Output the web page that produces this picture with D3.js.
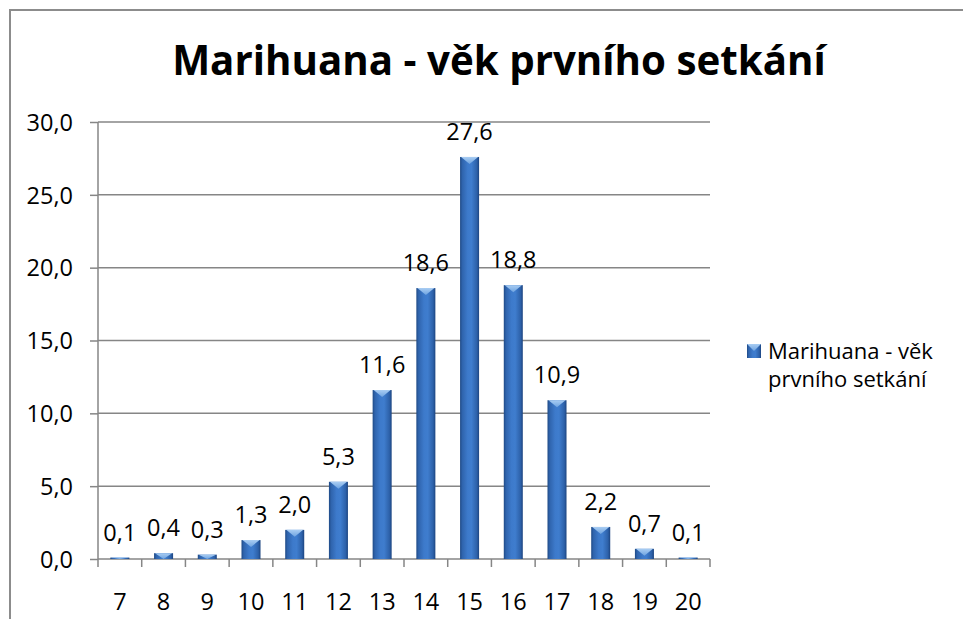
<!DOCTYPE html>
<html>
<head>
<meta charset="utf-8">
<script src="https://cdn.jsdelivr.net/npm/d3@7"></script>
<style>
  html, body { margin: 0; padding: 0; background: #fff; }
  svg { display: block; }
  text { font-family: "Open Sans", "Noto Sans", sans-serif; fill: #000; }
</style>
</head>
<body>
<script>
const titleText = "Marihuana - věk prvního setkání";
const seriesName = ["Marihuana - věk", "prvního setkání"];
const categories = ["7","8","9","10","11","12","13","14","15","16","17","18","19","20"];
const values = [0.1, 0.4, 0.3, 1.3, 2.0, 5.3, 11.6, 18.6, 27.6, 18.8, 10.9, 2.2, 0.7, 0.1];
const yTicks = [0, 5, 10, 15, 20, 25, 30];

const W = 963, H = 619;
const svg = d3.select("body").append("svg").attr("width", W).attr("height", H);

const defs = svg.append("defs");
const g1 = defs.append("linearGradient").attr("id", "barGrad").attr("x1", "0").attr("x2", "1").attr("y1", "0").attr("y2", "0");
[["0%", "#1f4a86"], ["12%", "#2f64ad"], ["40%", "#3d7acb"], ["60%", "#3f7dce"], ["88%", "#2d61a9"], ["100%", "#1c4480"]]
  .forEach(([o, c]) => g1.append("stop").attr("offset", o).attr("stop-color", c));
const g2 = defs.append("linearGradient").attr("id", "capGrad").attr("x1", "0").attr("x2", "0").attr("y1", "0").attr("y2", "1");
[["0%", "#a9cdf3"], ["100%", "#6ea3e0"]]
  .forEach(([o, c]) => g2.append("stop").attr("offset", o).attr("stop-color", c));

// outer chart border (top + left visible)
svg.append("path").attr("d", `M10,${H} L10,10 L${W},10`)
  .attr("fill", "none").attr("stroke", "#8c8c8c").attr("stroke-width", 2);

// title
const title = svg.append("text").attr("x", 499).attr("y", 75)
  .attr("text-anchor", "middle").attr("font-weight", "bold").attr("font-size", 40)
  .text(titleText);
const tl = title.node().getComputedTextLength();
title.attr("font-size", 40 * 654 / tl);

const plot = { left: 98, right: 710, top: 122, bottom: 559 };
const x = d3.scaleBand().domain(categories).range([plot.left, plot.right]).paddingInner(0.565).paddingOuter(0.2825);
const xb = d3.scaleBand().domain(categories).range([plot.left, plot.right]);
const y = d3.scaleLinear().domain([0, 30]).range([plot.bottom, plot.top]);

// gridlines
svg.append("g").selectAll("line").data(yTicks.filter(d => d > 0)).join("line")
  .attr("x1", plot.left).attr("x2", plot.right)
  .attr("y1", d => y(d)).attr("y2", d => y(d))
  .attr("stroke", "#868686").attr("stroke-width", 1.5);

// y axis
const yAxis = svg.append("g").attr("transform", `translate(${plot.left},0)`)
  .call(d3.axisLeft(y).tickValues(yTicks).tickSize(8).tickPadding(17)
    .tickFormat(d => d3.format(".1f")(d).replace(".", ",")));
yAxis.select(".domain").attr("stroke", "#868686").attr("stroke-width", 1.5).attr("d", `M0,${plot.top}V${plot.bottom}`);
yAxis.selectAll(".tick line").attr("stroke", "#868686").attr("stroke-width", 1.5);
yAxis.selectAll(".tick text").attr("font-size", 23.5).attr("fill", "#000").attr("dy", "0.35em")
  .style("font-family", '"Open Sans", sans-serif');

// x axis: category boundary ticks
const xAxisG = svg.append("g");
xAxisG.append("line").attr("x1", plot.left).attr("x2", plot.right)
  .attr("y1", plot.bottom).attr("y2", plot.bottom)
  .attr("stroke", "#868686").attr("stroke-width", 1.5);
const bounds = categories.map(c => xb(c)).concat([plot.right]);
xAxisG.selectAll("line.tk").data(bounds).join("line").attr("class", "tk")
  .attr("x1", d => d).attr("x2", d => d).attr("y1", plot.bottom).attr("y2", plot.bottom + 8)
  .attr("stroke", "#868686").attr("stroke-width", 1.5);
xAxisG.selectAll("text").data(categories).join("text")
  .attr("x", d => xb(d) + xb.bandwidth() / 2).attr("y", 610)
  .attr("text-anchor", "middle").attr("font-size", 23.5).text(d => d);

// bars
const bars = svg.append("g");
const data = categories.map((c, i) => ({ c, v: values[i] }));
bars.selectAll("rect").data(data).join("rect")
  .attr("x", d => x(d.c)).attr("width", x.bandwidth())
  .attr("y", d => y(d.v)).attr("height", d => y(0) - y(d.v))
  .attr("fill", "url(#barGrad)");
bars.selectAll("path.cap").data(data).join("path").attr("class", "cap")
  .attr("d", d => {
    const x0 = x(d.c), x1 = x0 + x.bandwidth(), top = y(d.v);
    const h = Math.min(7, y(0) - top);
    return `M${x0 + 1},${top} L${x1 - 1},${top} L${(x0 + x1) / 2},${top + h} Z`;
  })
  .attr("fill", "url(#capGrad)");

// data labels
svg.append("g").selectAll("text").data(data).join("text")
  .attr("x", d => x(d.c) + x.bandwidth() / 2).attr("y", d => y(d.v) - 17)
  .attr("text-anchor", "middle").attr("font-size", 23.5)
  .text(d => d3.format(".1f")(d.v).replace(".", ","));

// legend
const leg = svg.append("g");
leg.append("rect").attr("x", 747).attr("y", 344).attr("width", 14).attr("height", 14).attr("fill", "url(#barGrad)");
leg.append("path").attr("d", "M747,344 L761,344 L754,351 Z").attr("fill", "url(#capGrad)");
leg.selectAll("text").data(seriesName).join("text")
  .attr("x", 768).attr("y", (d, i) => 359 + i * 28)
  .attr("font-size", 22).text(d => d);
</script>
</body>
</html>
